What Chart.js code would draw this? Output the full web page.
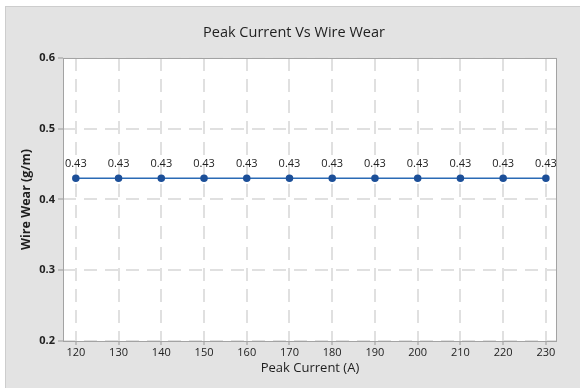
<!DOCTYPE html>
<html>
<head>
<meta charset="utf-8">
<script src="https://cdn.jsdelivr.net/npm/chart.js@4/dist/chart.umd.min.js"></script>
<style>
  html, body { margin: 0; padding: 0; background: #fff; }
  #wrap { position: relative; width: 580px; height: 388px; overflow: hidden; }
  #panel {
    position: absolute; left: 5px; top: 6px; width: 580px; height: 390px;
    background: #e3e3e3; border-left: 1px solid #cdcdcd; border-top: 1px solid #cdcdcd;
  }
  canvas { position: absolute; left: 0; top: 0; }
</style>
</head>
<body>
<div id="wrap">
  <div id="panel"></div>
  <canvas id="wearChart" width="580" height="388"></canvas>
</div>
<script>
const peakCurrent = [120, 130, 140, 150, 160, 170, 180, 190, 200, 210, 220, 230];
const wireWear = [0.43, 0.43, 0.43, 0.43, 0.43, 0.43, 0.43, 0.43, 0.43, 0.43, 0.43, 0.43];
const xTicks = [120, 130, 140, 150, 160, 170, 180, 190, 200, 210, 220, 230];
const yTicks = [0.2, 0.3, 0.4, 0.5, 0.6];
const chartTitle = 'Peak Current Vs Wire Wear';

const FONT = '"Open Sans", "Noto Sans", sans-serif';

// white plot area with a gray frame, heading, and value labels above the points
const plotFrame = {
  id: 'plotFrame',
  beforeDraw(chart) {
    const { ctx, chartArea: a } = chart;
    ctx.save();
    ctx.fillStyle = '#fff';
    ctx.fillRect(a.left, a.top, a.right - a.left, a.bottom - a.top);
    ctx.font = '14.5px ' + FONT;
    ctx.fillStyle = '#1e1e1e';
    ctx.textAlign = 'center';
    ctx.textBaseline = 'middle';
    ctx.fillText(chartTitle, 294, 33);
    ctx.restore();
  },
  afterDraw(chart) {
    const { ctx, chartArea: a } = chart;
    ctx.save();
    ctx.strokeStyle = '#a3a3a3';
    ctx.lineWidth = 1;
    ctx.strokeRect(a.left + 0.5, a.top + 0.5, a.right - a.left - 1, a.bottom - a.top);
    ctx.restore();
  },
  afterDatasetsDraw(chart) {
    const { ctx } = chart;
    const meta = chart.getDatasetMeta(0);
    ctx.save();
    ctx.font = '11px ' + FONT;
    ctx.fillStyle = '#222';
    ctx.textAlign = 'center';
    ctx.textBaseline = 'middle';
    meta.data.forEach((pt, i) => {
      ctx.fillText(wireWear[i].toFixed(2), pt.x, pt.y - 14);
    });
    ctx.restore();
  }
};

new Chart(document.getElementById('wearChart'), {
  type: 'line',
  data: {
    datasets: [{
      data: peakCurrent.map((x, i) => ({ x, y: wireWear[i] })),
      borderColor: '#2a6ab5',
      borderWidth: 1.5,
      pointBackgroundColor: '#1c4f98',
      pointBorderColor: '#1c4f98',
      pointRadius: 3,
      tension: 0
    }]
  },
  options: {
    responsive: false,
    animation: false,
    layout: { padding: { left: 5, right: 23, top: 58, bottom: 0 } },
    plugins: {
      legend: { display: false },
      tooltip: { enabled: false },
      title: { display: false }
    },
    scales: {
      x: {
        type: 'linear',
        min: 117,
        max: 232.6,
        afterBuildTicks: s => { s.ticks = xTicks.map(v => ({ value: v })); },
        afterFit: s => { s.height = 47; },
        ticks: { color: '#222', font: { family: FONT, size: 11 }, padding: 1 },
        grid: {
          color: '#e0e0e0', lineWidth: 2, tickLength: 4,
          tickColor: '#999', tickWidth: 1, tickBorderDash: []
        },
        border: { display: false, dash: [13, 8] },
        title: {
          display: true, text: 'Peak Current (A)', color: '#1e1e1e',
          font: { family: FONT, size: 13 }, padding: { top: 0, bottom: 12 }
        }
      },
      y: {
        min: 0.2,
        max: 0.6,
        afterBuildTicks: s => { s.ticks = yTicks.map(v => ({ value: v })); },
        afterFit: s => { s.width = 58; },
        ticks: {
          color: '#222', font: { family: FONT, size: 11, weight: 'bold' }, padding: 3,
          callback: v => v.toFixed(1)
        },
        grid: {
          color: '#e0e0e0', lineWidth: 2, tickLength: 5,
          tickColor: '#999', tickWidth: 1, tickBorderDash: []
        },
        border: { display: false, dash: [13, 8] },
        title: {
          display: true, text: 'Wire Wear (g/m)', color: '#1e1e1e',
          font: { family: FONT, size: 12.5, weight: 'bold' }, padding: { top: 14, bottom: 0 }
        }
      }
    }
  },
  plugins: [plotFrame]
});
</script>
</body>
</html>
